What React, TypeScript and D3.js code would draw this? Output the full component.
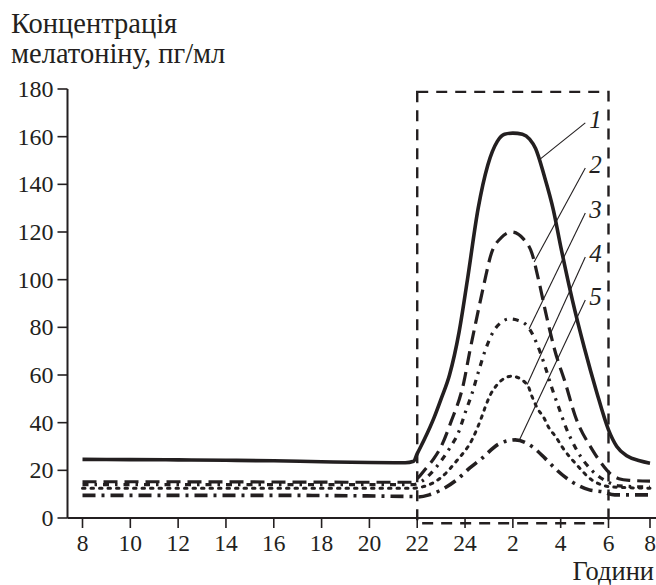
import React from "react";
import * as d3 from "d3";

type Pt = [number, number];

const xTickHours = [8, 10, 12, 14, 16, 18, 20, 22, 24, 26, 28, 30, 32];
const xTickLabels = ["8", "10", "12", "14", "16", "18", "20", "22", "24", "2", "4", "6", "8"];
const yTicks = [0, 20, 40, 60, 80, 100, 120, 140, 160, 180];

const series1: Pt[] = [
  [8, 24.6], [10, 24.5], [12, 24.4], [14, 24.2], [16, 24.0], [18, 23.6], [20, 23.3], [21.5, 23.2],
  [21.85, 23.8], [22.0, 27], [22.3, 33], [22.7, 42], [23.0, 50], [23.35, 60], [23.75, 78],
  [24.1, 100], [24.55, 130], [24.95, 148], [25.35, 158], [25.65, 161], [26.0, 161.5], [26.4, 161],
  [26.7, 159], [26.95, 155], [27.3, 144], [27.7, 129], [28.0, 114], [28.5, 91], [29.0, 71],
  [29.5, 53], [30.0, 37], [30.4, 30], [30.9, 26], [31.5, 24], [32, 23],
];
const series2: Pt[] = [
  [8, 15.2], [12, 15.2], [16, 15.1], [20, 15], [21.8, 15], [22.05, 17], [22.3, 20], [22.7, 25],
  [23.0, 30], [23.4, 40], [23.95, 57], [24.2, 70], [24.5, 84.5], [24.8, 98.5], [25.1, 111],
  [25.5, 117.5], [25.95, 120], [26.45, 117], [26.8, 111], [27.05, 101], [27.4, 85], [27.75, 70.5],
  [28.2, 56.5], [28.6, 43], [29.3, 29], [29.7, 23], [30.1, 18.5], [30.5, 16.5], [31, 15.8], [32, 15.5],
];
const series3: Pt[] = [
  [8, 14], [16, 14], [21.8, 14], [22.2, 15.5], [22.6, 19], [23.0, 24], [23.4, 30], [23.73, 36],
  [24.0, 44], [24.3, 52.5], [24.55, 61], [24.85, 70.5], [25.2, 78.5], [25.5, 82], [25.85, 83.5],
  [26.2, 83], [26.65, 80], [27.05, 72], [27.35, 63.5], [27.65, 54], [27.95, 45.5], [28.2, 38.5],
  [28.7, 28], [29.3, 20], [29.9, 15.5], [30.5, 13.5], [32, 13],
];
const series4: Pt[] = [
  [8, 12.5], [16, 12.5], [21.8, 12.5], [22.2, 13], [23.0, 17], [23.65, 24], [24.3, 33], [24.7, 42.5],
  [24.85, 46.7], [25.05, 51.5], [25.35, 56], [25.95, 59.5], [26.6, 56], [26.8, 51], [27.0, 46.5],
  [27.3, 42], [27.5, 38], [27.8, 34], [28.05, 30], [28.7, 22], [29.3, 16], [30.2, 13], [32, 12.5],
];
const series5: Pt[] = [
  [8, 9.5], [16, 9.5], [21.8, 9], [22.0, 8.8], [22.5, 9.7], [23.0, 11.8], [23.65, 16], [24.2, 21],
  [24.7, 25], [25.4, 31], [26.1, 32.8], [26.8, 30], [27.35, 25], [27.85, 20], [28.5, 15],
  [29.2, 11.8], [29.75, 11], [30.3, 9.7], [32, 9.7],
];

const seriesList = [series1, series2, series3, series4, series5];
const seriesNames = ["1", "2", "3", "4", "5"];
const labelValues = [163.7, 144.8, 125.9, 107.4, 89.4];
const targetHours = [27.1, 26.89, 26.68, 26.6, 26.25];
const labelHour = 29.2;
const leaderStartHour = 29.03;

const boxHours = [22, 30];
const boxValues = [-2.2, 178.8];

const styles = [
  { w: 3.6, dash: "" },
  { w: 3.2, dash: "14,7" },
  { w: 3.2, dash: "6,6,2.5,6" },
  { w: 3.0, dash: "2.5,6" },
  { w: 3.6, dash: "13,6,3,6" },
];

const W = 656;
const H = 585;
const font = "Liberation Serif, Times New Roman, serif";
const ink = "#231f20";

function interp(s: Pt[], h: number): number {
  const i = d3.bisector((d: Pt) => d[0]).left(s, h);
  if (i <= 0) return s[0][1];
  if (i >= s.length) return s[s.length - 1][1];
  const [x0, y0] = s[i - 1];
  const [x1, y1] = s[i];
  return y0 + ((h - x0) / (x1 - x0)) * (y1 - y0);
}

export default function App() {
  const x = d3.scaleLinear().domain([8, 30, 32]).range([82.5, 608.5, 650]);
  const y = d3.scaleLinear().domain([0, 180]).range([518, 89]);
  const line = d3
    .line<Pt>()
    .x((d) => x(d[0]))
    .y((d) => y(d[1]))
    .curve(d3.curveMonotoneX);

  const axisX0 = 67.5;
  const tStyle = { fontFamily: font };

  return (
    <svg
      width={W}
      height={H}
      viewBox={`0 0 ${W} ${H}`}
      style={{ position: "absolute", left: 0, top: 0, background: "#fff" }}
    >
      <rect x={0} y={0} width={W} height={H} fill="#fff" />
      {/* title */}
      <text x={11} y={33} fontSize={28.5} fill={ink} style={tStyle}>Концентрація</text>
      <text x={11} y={63} fontSize={28.5} fill={ink} style={tStyle}>мелатоніну, пг/мл</text>

      {/* dashed box */}
      <rect
        x={x(boxHours[0])}
        y={y(boxValues[1])}
        width={x(boxHours[1]) - x(boxHours[0])}
        height={y(boxValues[0]) - y(boxValues[1])}
        fill="none"
        stroke={ink}
        strokeWidth={2.4}
        strokeDasharray="11,8"
      />

      {/* y axis */}
      <line x1={axisX0} x2={axisX0} y1={y(180)} y2={y(0)} stroke={ink} strokeWidth={2} />
      {yTicks.map((t) => (
        <g key={t}>
          <line x1={axisX0 - 10} x2={axisX0} y1={y(t)} y2={y(t)} stroke={ink} strokeWidth={1.6} />
          <text x={axisX0 - 14} y={y(t) + 8} fontSize={24} textAnchor="end" fill={ink} style={tStyle}>
            {t}
          </text>
        </g>
      ))}

      {/* x axis */}
      <line x1={axisX0} x2={W} y1={y(0)} y2={y(0)} stroke={ink} strokeWidth={2} />
      {xTickHours.map((t, i) => (
        <g key={t}>
          <line x1={x(t)} x2={x(t)} y1={y(0)} y2={y(0) + 10} stroke={ink} strokeWidth={1.6} />
          <text x={x(t)} y={551} fontSize={23.5} textAnchor="middle" fill={ink} style={tStyle}>
            {xTickLabels[i]}
          </text>
        </g>
      ))}
      <text x={654} y={580} fontSize={26.5} textAnchor="end" fill={ink} style={tStyle}>Години</text>

      {/* curves */}
      {seriesList.map((s, i) => (
        <path
          key={i}
          d={line(s) || ""}
          fill="none"
          stroke={ink}
          strokeWidth={styles[i].w}
          strokeDasharray={styles[i].dash || undefined}
          strokeLinecap={i === 3 ? "round" : "butt"}
          strokeLinejoin="round"
        />
      ))}

      {/* labels with leaders */}
      {seriesList.map((s, i) => {
        const tv = interp(s, targetHours[i]);
        const ly = y(labelValues[i]);
        return (
          <g key={"l" + i}>
            <line
              x1={x(leaderStartHour)}
              y1={ly - 5}
              x2={x(targetHours[i])}
              y2={y(tv)}
              stroke={ink}
              strokeWidth={1.1}
            />
            <text x={x(labelHour)} y={ly} fontSize={25} fontStyle="italic" fill={ink} style={tStyle}>
              {seriesNames[i]}
            </text>
          </g>
        );
      })}
    </svg>
  );
}
